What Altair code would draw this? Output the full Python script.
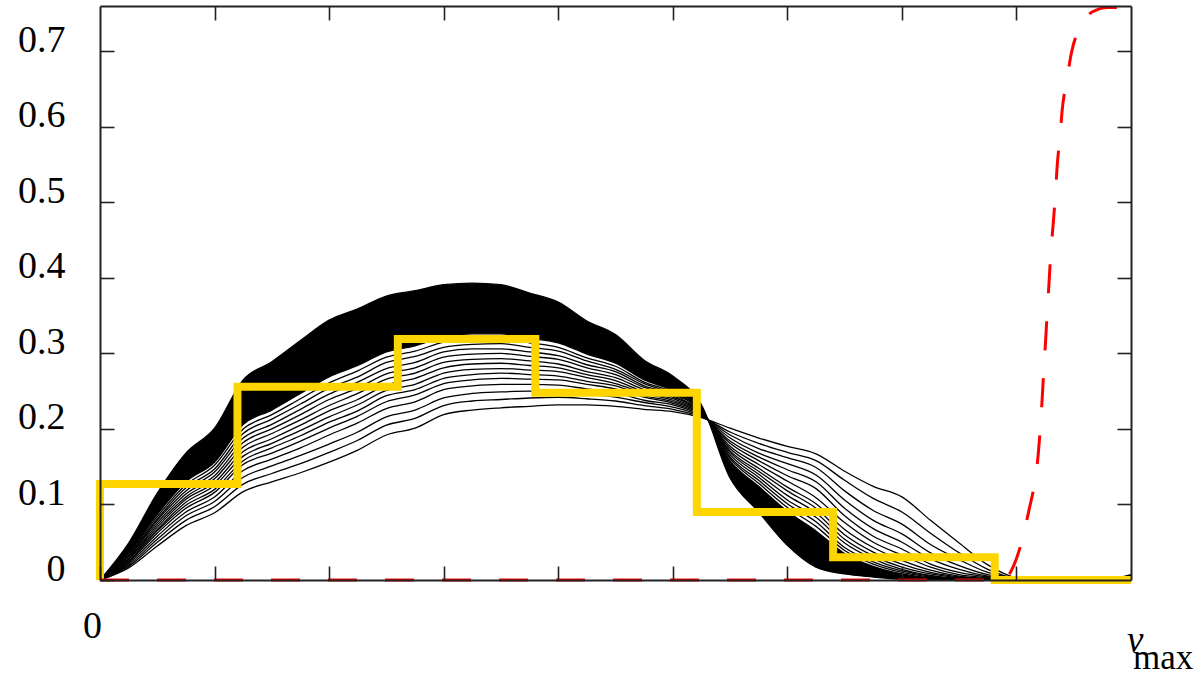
import altair as alt
import pandas as pd

# ---------------- data ----------------
X = [0.0, 0.25, 0.5, 0.75, 1.0, 1.25, 1.5, 1.75, 2.0, 2.25, 2.5, 2.75, 3.0, 3.25,
     3.5, 3.75, 4.0, 4.25, 4.5, 4.75, 5.0, 5.25, 5.5, 5.75, 6.0, 6.25, 6.5, 6.75,
     7.0, 7.25, 7.5, 7.75, 8.0, 8.25, 8.5, 8.75, 9.0]

C0 = [0.000, 0.016, 0.045, 0.072, 0.089, 0.117, 0.130, 0.142, 0.156, 0.172, 0.192, 0.201,
      0.219, 0.225, 0.228, 0.230, 0.232, 0.232, 0.230, 0.226, 0.223, 0.215, 0.201, 0.188,
      0.177, 0.167, 0.144, 0.124, 0.110, 0.079, 0.049, 0.020, 0.003, 0.000, 0.000, 0.000, 0.007]
C1 = [0, .018, .050, .079, .097, .127, .141, .154, .169, .185, .205, .214, .231, .237, .239,
      .241, .242, .240, .237, .231, .226, .216, .196, .181, .169, .158, .132, .108, .090, .062,
      .036, .014, .002, 0, 0, 0, .006]
C2 = [0, .020, .054, .085, .104, .136, .151, .165, .180, .196, .216, .225, .241, .247, .249,
      .250, .250, .246, .242, .235, .229, .217, .192, .174, .162, .149, .118, .092, .074, .047,
      .027, .010, .002, 0, 0, 0, .006]
C3 = [0, .022, .058, .090, .110, .145, .160, .175, .192, .208, .227, .236, .252, .257, .259,
      .259, .258, .253, .248, .238, .232, .218, .188, .168, .154, .139, .106, .079, .061, .036,
      .019, .007, .001, 0, 0, 0, .005]
C4 = [0, .024, .062, .095, .116, .153, .168, .184, .201, .217, .236, .245, .260, .265, .267,
      .266, .265, .259, .253, .242, .234, .219, .184, .163, .146, .130, .095, .068, .050, .028,
      .014, .005, .001, 0, 0, 0, .005]
C5 = [0, .025, .065, .099, .120, .158, .175, .191, .209, .224, .244, .252, .267, .272, .274,
      .272, .270, .263, .257, .244, .236, .220, .181, .158, .138, .121, .085, .058, .041, .021,
      .010, .004, .001, 0, 0, 0, .005]
C6 = [0, .027, .067, .103, .125, .164, .181, .198, .216, .232, .251, .259, .274, .279, .280,
      .278, .276, .268, .260, .247, .238, .221, .177, .153, .131, .109, .076, .050, .033, .017,
      .007, .003, 0, 0, 0, 0, .005]
C7 = [0, .028, .070, .107, .129, .170, .187, .205, .224, .239, .258, .267, .281, .286, .287,
      .284, .281, .272, .264, .249, .240, .222, .174, .148, .123, .101, .067, .043, .026, .013,
      .005, .002, 0, 0, 0, 0, .004]
C8 = [0, .029, .073, .110, .134, .176, .194, .212, .231, .247, .266, .274, .288, .292, .293,
      .290, .286, .276, .268, .252, .242, .223, .171, .144, .118, .095, .060, .037, .021, .010,
      .004, .001, 0, 0, 0, 0, .004]
C9 = [0, .031, .076, .114, .138, .182, .200, .219, .239, .254, .273, .281, .295, .299, .300,
      .296, .292, .281, .272, .255, .244, .223, .169, .140, .112, .089, .054, .032, .017, .008,
      .003, .001, 0, 0, 0, 0, .004]
C10 = [0, .032, .079, .118, .143, .188, .206, .226, .246, .262, .280, .288, .302, .306, .306,
       .302, .297, .285, .276, .257, .246, .224, .166, .136, .106, .083, .049, .028, .014, .006,
       .002, .001, 0, 0, 0, 0, .004]
C11 = [0, .033, .081, .122, .147, .194, .213, .233, .254, .269, .288, .296, .308, .312, .313,
       .308, .303, .290, .279, .260, .247, .225, .163, .132, .101, .077, .043, .024, .012, .005,
       .002, .001, 0, 0, 0, 0, .004]
C12 = [0, .035, .084, .126, .152, .200, .219, .240, .261, .277, .295, .303, .315, .319, .319,
       .314, .308, .294, .283, .262, .249, .225, .161, .128, .096, .071, .039, .021, .010, .004,
       .001, .001, 0, 0, 0, 0, .003]
C13 = [0, .036, .087, .130, .156, .206, .225, .247, .269, .284, .302, .310, .322, .326, .326,
       .320, .314, .299, .287, .265, .251, .226, .158, .124, .091, .065, .035, .018, .008, .003,
       .001, 0, 0, 0, 0, 0, .003]
CF = [0.000, 0.049, 0.115, 0.168, 0.201, 0.265, 0.289, 0.317, 0.344, 0.359, 0.376, 0.383,
      0.391, 0.393, 0.391, 0.380, 0.368, 0.343, 0.325, 0.291, 0.270, 0.232, 0.135, 0.090,
      0.046, 0.017, 0.008, 0.004, 0.001, 0.000, 0.000, 0.000, 0.000, 0.000, 0.000, 0.000, 0.003]

# yellow step histogram
STEP_X = [0.0, 0.0, 1.2, 2.6, 3.8, 5.21, 6.4, 7.81, 9.0]
STEP_Y = [0.0, 0.127, 0.256, 0.319, 0.248, 0.090, 0.030, 0.0, 0.0]

# red dashed curve
RED_X = [0.0, 7.88, 7.97, 8.05, 8.11, 8.16, 8.19, 8.21, 8.225, 8.24, 8.255, 8.27, 8.285,
         8.30, 8.32, 8.34, 8.355, 8.38, 8.40, 8.44, 8.48, 8.57, 8.66, 8.8, 9.0]
RED_Y = [0.0, 0.0, 0.017, 0.053, 0.093, 0.130, 0.166, 0.205, 0.241, 0.282, 0.318, 0.358,
         0.395, 0.433, 0.470, 0.510, 0.547, 0.587, 0.623, 0.662, 0.698, 0.735, 0.752,
         0.758, 0.758]

Y_TICKS = [0.0, 0.1, 0.2, 0.3, 0.4, 0.5, 0.6, 0.7]
X_TICKS = [0, 1, 2, 3, 4, 5, 6, 7, 8]

# ---------------- tables ----------------
curves = {"c0": C0, "c1": C1, "c2": C2, "c3": C3, "c4": C4, "c5": C5, "c6": C6,
          "c7": C7, "c8": C8, "c9": C9, "c10": C10, "c11": C11, "c12": C12,
          "c13": C13, "cf": CF}
rows = []
for name, ys in curves.items():
    for xv, yv in zip(X, ys):
        rows.append({"x": xv, "y": yv, "curve": name})
lines_df = pd.DataFrame(rows)
area_df = pd.DataFrame({"x": X, "lo": C13, "hi": CF})
step_df = pd.DataFrame({"x": STEP_X, "y": STEP_Y, "o": list(range(len(STEP_X)))})
red_df = pd.DataFrame({"x": RED_X, "y": RED_Y})

FONT = "Liberation Serif"
FRAME = "#222222"
xs = alt.Scale(domain=[0, 9], nice=False, zero=False)
ysc = alt.Scale(domain=[0, 0.76], nice=False, zero=False)


def frame_axis(orient):
    return alt.Axis(orient=orient, domain=True, domainColor=FRAME, domainWidth=2,
                    ticks=False, labels=False, grid=False, title=None, zindex=1)


def tick_axis(orient, values, labels=False, **kw):
    return alt.Axis(orient=orient, values=values, offset=-14, tickSize=14,
                    tickColor=FRAME, tickWidth=1.6, domain=False, grid=False,
                    title=None, labels=labels, zindex=1, **kw)


# dense band of curves
area = alt.Chart(area_df).mark_area(color="black", opacity=1.0, interpolate="monotone").encode(
    x=alt.X("x:Q", scale=xs, axis=frame_axis("bottom")),
    y=alt.Y("hi:Q", scale=ysc, axis=frame_axis("left")),
    y2="lo:Q",
)

lines = alt.Chart(lines_df).mark_line(color="black", strokeWidth=1.3, interpolate="monotone").encode(
    x=alt.X("x:Q", scale=xs, axis=tick_axis(
        "bottom", X_TICKS, labels=True,
        labelExpr="datum.value == 0 ? '0' : ''",
        labelFont=FONT, labelFontSize=38, labelColor="black",
        labelPadding=57, labelBaseline="alphabetic", labelOffset=-8,
        labelFlush=False, labelOverlap=False)),
    y=alt.Y("y:Q", scale=ysc, axis=tick_axis(
        "left", Y_TICKS, labels=True,
        labelExpr="datum.value == 0 ? '0' : format(datum.value, '.1f')",
        labelFont=FONT, labelFontSize=38, labelColor="black",
        labelPadding=35, labelBaseline="alphabetic",
        labelFlush=False, labelOverlap=False)),
    detail="curve:N",
)

yellow = alt.Chart(step_df).mark_line(color="#FFD500", strokeWidth=8, interpolate="step-after",
                                      strokeJoin="miter", strokeCap="butt").encode(
    x=alt.X("x:Q", scale=xs, axis=frame_axis("top")),
    y=alt.Y("y:Q", scale=ysc, axis=frame_axis("right")),
    order="o:Q",
)

red = alt.Chart(red_df).mark_line(color="#FF0000", strokeWidth=3, strokeDash=[29, 28],
                                  interpolate="monotone").encode(
    x=alt.X("x:Q", scale=xs, axis=tick_axis("top", X_TICKS[1:])),
    y=alt.Y("y:Q", scale=ysc, axis=tick_axis("right", Y_TICKS[1:])),
)

v_df = pd.DataFrame({"x": [9.0], "y": [0.0], "t": ["v"]})
max_df = pd.DataFrame({"x": [9.0], "y": [0.0], "t": ["max"]})

v_text = alt.Chart(v_df).mark_text(font=FONT, fontSize=37, fontStyle="italic", align="left",
                                   baseline="alphabetic", dx=-4, dy=72, color="black").encode(
    x=alt.X("x:Q", scale=xs, axis=None),
    y=alt.Y("y:Q", scale=ysc, axis=None),
    text="t:N",
)
max_text = alt.Chart(max_df).mark_text(font=FONT, fontSize=35, align="left",
                                       baseline="alphabetic", dx=2, dy=89, color="black").encode(
    x=alt.X("x:Q", scale=xs, axis=None),
    y=alt.Y("y:Q", scale=ysc, axis=None),
    text="t:N",
)

chart = alt.layer(area, lines, yellow, red, v_text, max_text).resolve_axis(
    x="independent", y="independent"
).properties(
    width=1031, height=574,
    autosize=alt.AutoSizeParams(type="none"),
    padding={"left": 100, "top": 6, "right": 67, "bottom": 95},
    background="white",
).configure_view(stroke=None)

chart.save("out.html", embed_options={"renderer": "svg", "actions": False})
